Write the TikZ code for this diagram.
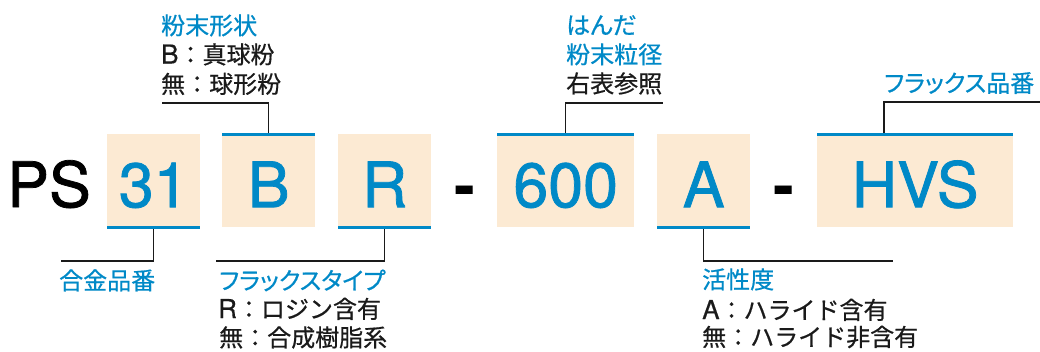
\documentclass[tikz,border=0pt]{standalone}
\usepackage{fontspec}
\setmainfont{TeX Gyre Heros}
\newfontfamily\bigf{TeX Gyre Heros}[FakeBold=1.2]
\newfontfamily\latf{TeX Gyre Heros}[FakeBold=0.5]
\newfontfamily\jp{Noto Sans CJK JP}[FakeBold=0.6]
\newfontfamily\jpp{Noto Sans CJK JP}[RawFeature=+palt, FakeBold=0.6]
\newcommand{\lat}[1]{{\latf\fontsize{26}{26}\selectfont #1}}
\definecolor{cblue}{RGB}{0,137,199}
\definecolor{cbeige}{RGB}{252,234,211}
\definecolor{cink}{RGB}{26,26,26}
\begin{document}
\begin{tikzpicture}[x=1pt,y=-1pt,
  big/.style={font=\bigf\fontsize{62.7}{62.7}\selectfont, inner sep=0pt},
  codebox/.style={big, fill=cbeige, anchor=north west, text=cblue,
    minimum height=93pt, text height=53pt, text depth=0pt},
  blueline/.style={draw=cblue, line width=3pt},
  leader/.style={draw=cink, line width=1.3pt},
  ttl/.style={font=\jpp\fontsize{24}{24}\selectfont, text=cblue, inner sep=0pt, anchor=base west},
  dsc/.style={font=\jp\fontsize{24}{24}\selectfont, text=cink, inner sep=0pt, anchor=base west},
  dashtxt/.style={inner sep=0pt, font=\fontsize{62.7}{62.7}\selectfont\bfseries, anchor=base}
]
\useasboundingbox (0,0) rectangle (1040,351);

% main code
\node[big, anchor=base west, text=black] (ps) at (7,207) {PS};
\node[codebox, minimum width=93pt]  (b31)  at (107,134) {31};
\node[codebox, minimum width=93pt]  (bB)   at (222,134) {B};
\node[codebox, minimum width=93pt]  (bR)   at (338,134) {R};
\node[dashtxt] (d1) at (464.5,207) {-};
\node[codebox, minimum width=137pt] (b600) at (497,134) {600};
\node[codebox, minimum width=93pt]  (bA)   at (657,134) {A};
\node[dashtxt] (d2) at (783.5,207) {-};
\node[codebox, minimum width=196pt] (bHVS) at (817,134) {HVS};

% leader ends
\coordinate (c31)  at (61,261);
\coordinate (cB)   at (162,103);
\coordinate (cR)   at (216,261);
\coordinate (c600) at (663,103);
\coordinate (cA)   at (893,261);
\coordinate (cHVS) at (1040,102);

% leaders
\draw[leader] (b31.south) |- (c31);
\draw[leader] (bB.north) |- (cB);
\draw[leader] (bR.south) |- (cR);
\draw[leader] (b600.north) |- (c600);
\draw[leader] (bA.south) |- (cA);
\draw[leader] (bHVS.north west) ++(67,0) |- (cHVS);

% blue edges
\draw[blueline] (b31.south west) -- (b31.south east);
\draw[blueline] (bB.north west) -- (bB.north east);
\draw[blueline] (bR.south west) -- (bR.south east);
\draw[blueline] (b600.north west) -- (b600.north east);
\draw[blueline] (bA.south west) -- (bA.south east);
\draw[blueline] (bHVS.north west) -- (bHVS.north east);

% labels above
\node[ttl] (tB)  at (161,34.5) {粉末形状};
\node[dsc] (tB1) at (161,63.5) {\lat{B}：真球粉};
\node[dsc] (tB2) at (161,93) {無：球形粉};

\node[ttl] (t600)  at (566,34) {はんだ};
\node[ttl] (t6001) at (566,63.5) {粉末粒径};
\node[dsc] (t6002) at (566,92.5) {右表参照};

\node[ttl] (tHVS) at (884,92) {フラックス品番};

% labels below
\node[ttl] (t31) at (59,289.5) {合金品番};

\node[ttl] (tR)  at (219,289.5) {フラックスタイプ};
\node[dsc] (tR1) at (218,318) {\lat{R}：ロジン含有};
\node[dsc] (tR2) at (219,346.5) {無：合成樹脂系};

\node[ttl] (tA)  at (702,288.5) {活性度};
\node[dsc] (tA1) at (702,319) {\lat{A}：ハライド含有};
\node[dsc] (tA2) at (702,346) {無：ハライド非含有};
\end{tikzpicture}
\end{document}
